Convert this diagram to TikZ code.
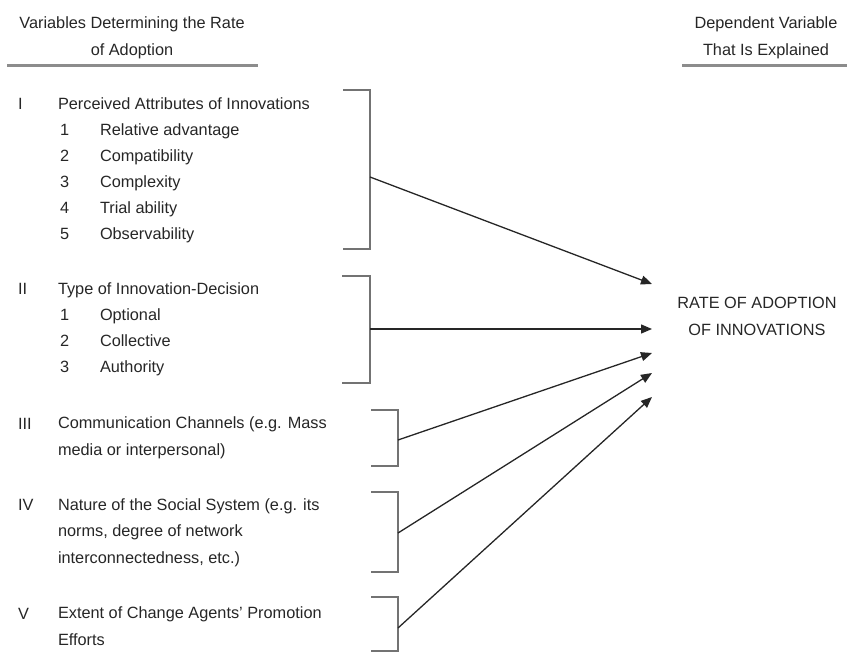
\documentclass[tikz,border=0pt]{standalone}
\usepackage{fontspec}
\setmainfont{Liberation Sans}
\usetikzlibrary{arrows.meta,positioning}

\begin{document}
\begin{tikzpicture}[x=1pt,y=-1pt,>={Triangle[length=11pt,width=9pt]},
                    every node/.style={inner sep=0pt,outer sep=0pt,text=black!85,
                      font=\fontsize{16.3}{26.5}\selectfont}]
  \tikzstyle{txt}=[anchor=base west,align=left]
  \tikzstyle{head}=[anchor=base,align=center]
  \tikzstyle{brk}=[draw=black!55,line width=1.8pt]
  \tikzstyle{arr}=[->,draw=black!85,line width=1.3pt]
  \tikzstyle{rule}=[draw=black!45,line width=3pt]

  \useasboundingbox (0,0) rectangle (847,653);

  % headings (base = last line)
  \node[head] (hleft)  at (132,55) {Variables Determining the Rate\\of Adoption};
  \node[head] (hright) at (766,55) {Dependent Variable\\That Is Explained};
  \draw[rule] (7,65) -- (258,65);
  \draw[rule] (682,65) -- (847,65);

  % I
  \node[txt] (rI) at (18,109) {I};
  \node[txt] (gI) at (58,109) {Perceived Attributes of Innovations};
  \foreach \k/\t in {1/Relative advantage,2/Compatibility,3/Complexity,
                     4/Trial ability,5/Observability} {
    \node[txt] (nI\k) at (60,{109+26*\k}) {\k};
    \node[txt] (aI\k) at (100,{109+26*\k}) {\t};
  }

  % II
  \node[txt] (rII) at (18,294) {II};
  \node[txt] (gII) at (58,294) {Type of Innovation-Decision};
  \foreach \k/\t in {1/Optional,2/Collective,3/Authority} {
    \node[txt] (nII\k) at (60,{294+26*\k}) {\k};
    \node[txt] (aII\k) at (100,{294+26*\k}) {\t};
  }

  % III - V
  \node[txt] (rIII) at (18,429) {III};
  \node[txt] (gIII) at (58,455) {Communication Channels (e.g. Mass\\media or interpersonal)};
  \node[txt] (rIV) at (18,510) {IV};
  \node[txt] (gIV) at (58,563) {Nature of the Social System (e.g. its\\norms, degree of network\\interconnectedness, etc.)};
  \node[txt] (rV) at (18,619) {V};
  \node[txt] (gV) at (58,645) {Extent of Change Agents' Promotion\\Efforts};

  % dependent variable
  \node[head] (rate) at (757,335) {RATE OF ADOPTION\\OF INNOVATIONS};

  % brackets
  \draw[brk] (343,90) -- (370,90) -- (370,249) -- (343,249);
  \draw[brk] (342,276) -- (370,276) -- (370,383) -- (342,383);
  \draw[brk] (371,410) -- (398,410) -- (398,466) -- (371,466);
  \draw[brk] (371,492) -- (398,492) -- (398,572) -- (371,572);
  \draw[brk] (371,597) -- (398,597) -- (398,651) -- (371,651);

  \coordinate (bI)   at (370,177);
  \coordinate (bII)  at (370,329);
  \coordinate (bIII) at (398,440);
  \coordinate (bIV)  at (398,533);
  \coordinate (bV)   at (398,628);

  \coordinate (tI)   at (652,284);
  \coordinate (tII)  at (652,329);
  \coordinate (tIII) at (652,353);
  \coordinate (tIV)  at (652,373);
  \coordinate (tV)   at (652,397);

  \draw[arr] (bI) -- (tI);
  \draw[arr] (bII) -- (tII);
  \draw[arr] (bIII) -- (tIII);
  \draw[arr] (bIV) -- (tIV);
  \draw[arr] (bV) -- (tV);
\end{tikzpicture}
\end{document}
